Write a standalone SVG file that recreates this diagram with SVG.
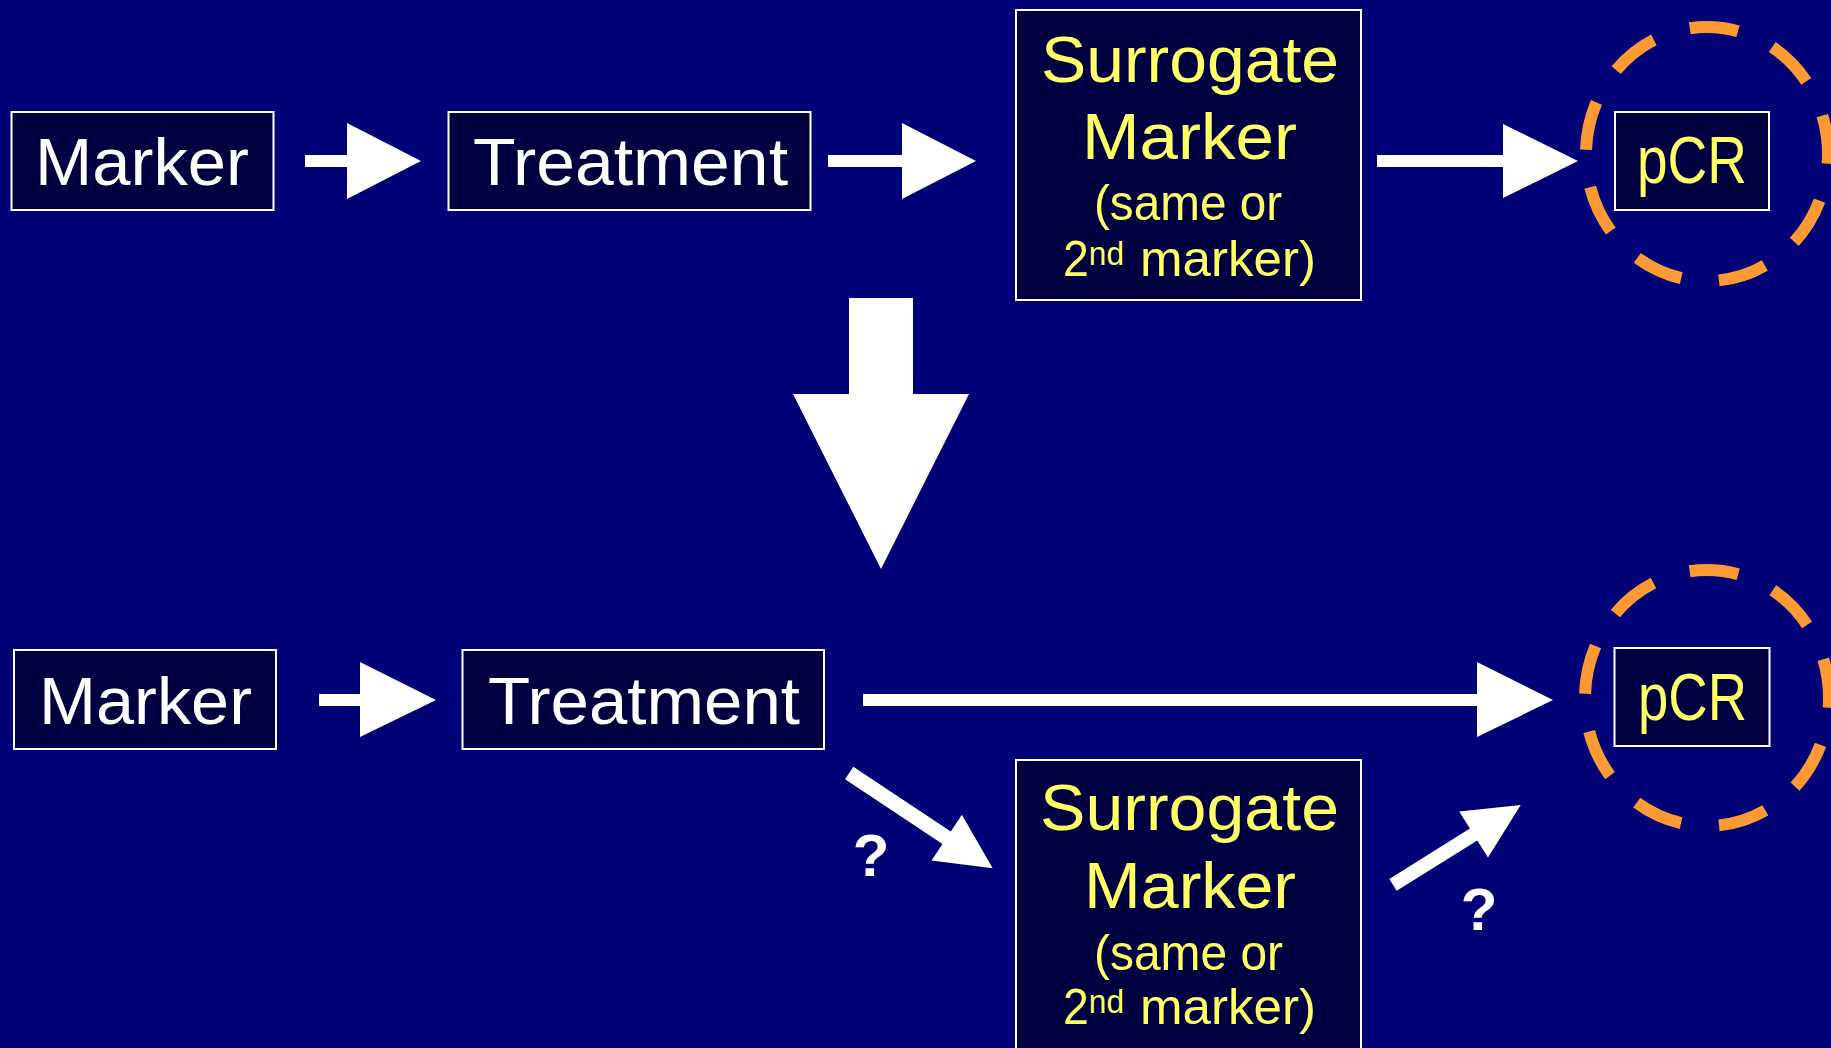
<svg xmlns="http://www.w3.org/2000/svg" width="1831" height="1048" viewBox="0 0 1831 1048">
  <style>
    .box { fill: #000040; stroke: #ffffff; stroke-width: 2; }
    .arrow { fill: #ffffff; stroke: none; }
    .ring { fill: none; stroke: #FF9933; stroke-width: 12; stroke-dasharray: 22.5 17.5; stroke-dashoffset: -22; }
    .t { font-family: "Liberation Sans", Arial, sans-serif; }
    .w { fill: #ffffff; }
    .y { fill: #FFFF66; }
    .big { font-size: 66px; }
    .mid { font-size: 64px; }
    .sm { font-size: 50px; }
    .sup { font-size: 34px; }
    .q { font-size: 60px; font-weight: bold; fill: #ffffff; text-anchor: middle; }
  </style>
  <rect x="0" y="0" width="1831" height="1048" fill="#000077"/>

  <g id="connectors">
    <polygon class="arrow" points="305,155 347,155 347,123 421,161 347,199 347,167 305,167"/>
    <polygon class="arrow" points="828,155 902,155 902,123 976,161 902,199 902,167 828,167"/>
    <polygon class="arrow" points="1377,155 1503,155 1503,124 1578,161 1503,198 1503,167 1377,167"/>
    <polygon class="arrow" points="849,298 913,298 913,394 969,394 881,569 793,394 849,394"/>
    <polygon class="arrow" points="319,694 360,694 360,662 436,700 360,737 360,706 319,706"/>
    <polygon class="arrow" points="863,694 1477,694 1477,662 1553,700 1477,737 1477,706 863,706"/>
    <polygon class="arrow" points="853.35,766.75 950.8,831.5 961.9,814.8 992.7,868.3 931.5,860.6 942.5,843.9 845.05,779.25"/>
    <polygon class="arrow" points="1389.3,878.9 1469.9,828.5 1459.2,811.4 1520.7,805 1488,857.5 1477.3,840.4 1396.7,890.8"/>
    <text class="t q" x="871" y="876">?</text>
    <text class="t q" x="1479" y="930">?</text>
  </g>

  <g id="marker1">
    <rect class="box" x="11.5" y="112" width="262" height="98"/>
    <text class="t w big" x="35" y="185" textLength="214" lengthAdjust="spacingAndGlyphs">Marker</text>
  </g>
  <g id="treatment1">
    <rect class="box" x="448.5" y="112" width="362" height="98"/>
    <text class="t w big" x="473" y="185" textLength="315" lengthAdjust="spacingAndGlyphs">Treatment</text>
  </g>
  <g id="surrogate1">
    <rect class="box" x="1016" y="10" width="345" height="290"/>
    <text class="t y mid" x="1041" y="82" textLength="298" lengthAdjust="spacingAndGlyphs">Surrogate</text>
    <text class="t y mid" x="1082" y="159" textLength="215" lengthAdjust="spacingAndGlyphs">Marker</text>
    <text class="t y sm" x="1094" y="220" textLength="188" lengthAdjust="spacingAndGlyphs">(same or</text>
    <text class="t y sm" x="1063" y="276" textLength="61" lengthAdjust="spacingAndGlyphs">2<tspan class="sup" dy="-11">nd</tspan></text>
    <text class="t y sm" x="1140" y="276" textLength="176" lengthAdjust="spacingAndGlyphs">marker)</text>
  </g>
  <g id="pcr1">
    <ellipse class="ring" cx="1707" cy="154" rx="121" ry="127" pathLength="360"/>
    <rect class="box" x="1615" y="112" width="154" height="98"/>
    <text class="t y big" x="1637" y="183" textLength="110" lengthAdjust="spacingAndGlyphs">pCR</text>
  </g>

  <g id="marker2">
    <rect class="box" x="14" y="650" width="262" height="99"/>
    <text class="t w big" x="39" y="724" textLength="213" lengthAdjust="spacingAndGlyphs">Marker</text>
  </g>
  <g id="treatment2">
    <rect class="box" x="462.5" y="650" width="361.5" height="99"/>
    <text class="t w big" x="488" y="724" textLength="312" lengthAdjust="spacingAndGlyphs">Treatment</text>
  </g>
  <g id="surrogate2">
    <rect class="box" x="1016" y="760" width="345" height="300"/>
    <text class="t y mid" x="1040" y="830" textLength="299" lengthAdjust="spacingAndGlyphs">Surrogate</text>
    <text class="t y mid" x="1084" y="908" textLength="212" lengthAdjust="spacingAndGlyphs">Marker</text>
    <text class="t y sm" x="1094" y="970" textLength="189" lengthAdjust="spacingAndGlyphs">(same or</text>
    <text class="t y sm" x="1063" y="1024" textLength="61" lengthAdjust="spacingAndGlyphs">2<tspan class="sup" dy="-11">nd</tspan></text>
    <text class="t y sm" x="1140" y="1024" textLength="176" lengthAdjust="spacingAndGlyphs">marker)</text>
  </g>
  <g id="pcr2">
    <ellipse class="ring" cx="1707" cy="698" rx="122" ry="128" pathLength="360"/>
    <rect class="box" x="1614.5" y="648" width="155" height="98"/>
    <text class="t y big" x="1638" y="720" textLength="109" lengthAdjust="spacingAndGlyphs">pCR</text>
  </g>
</svg>
